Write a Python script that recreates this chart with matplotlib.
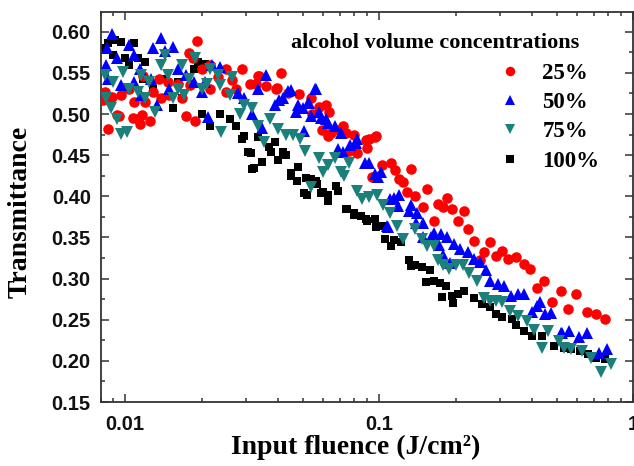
import matplotlib
matplotlib.use("Agg")
import matplotlib.pyplot as plt
from matplotlib.ticker import MultipleLocator, FixedLocator, NullFormatter, FixedFormatter

# ---------------- data ----------------
x25 = [0.0086, 0.0086, 0.0083, 0.0095, 0.0112, 0.0114, 0.0125, 0.0120, 0.0118, 0.0136,
       0.0147, 0.0161, 0.0173, 0.0188, 0.0192, 0.0179, 0.0185, 0.0200, 0.0215, 0.0232,
       0.0249, 0.0263, 0.0288, 0.0310, 0.0334, 0.0096, 0.0104, 0.0108, 0.0129, 0.0139,
       0.0149, 0.0167, 0.0180, 0.0215, 0.0249, 0.0273, 0.0093, 0.0107, 0.0117, 0.0082,
       0.0089, 0.0098, 0.0337, 0.0411, 0.0327, 0.0359, 0.0393, 0.0436, 0.0485, 0.0539,
       0.0581, 0.0617, 0.0636, 0.0598, 0.0646, 0.0627, 0.0697, 0.0740, 0.0545, 0.0718,
       0.0798, 0.0887, 0.0971, 0.0900, 0.0762, 0.0822, 0.0942, 0.0395, 0.0964, 0.0915,
       0.1023, 0.111, 0.116, 0.120, 0.124, 0.129, 0.139, 0.134, 0.149, 0.155,
       0.164, 0.170, 0.179, 0.186, 0.193, 0.204, 0.216, 0.223, 0.236, 0.249,
       0.258, 0.273, 0.289, 0.304, 0.322, 0.345, 0.372, 0.393, 0.417, 0.447,
       0.481, 0.519, 0.557, 0.597, 0.657, 0.716, 0.774]
y25 = [0.482, 0.519, 0.527, 0.498, 0.494, 0.488, 0.492, 0.515, 0.546, 0.543,
       0.539, 0.537, 0.498, 0.492, 0.589, 0.574, 0.568, 0.555, 0.559, 0.545,
       0.555, 0.541, 0.555, 0.536, 0.546, 0.523, 0.531, 0.515, 0.527, 0.519,
       0.523, 0.519, 0.535, 0.531, 0.527, 0.531, 0.499, 0.495, 0.499, 0.517,
       0.521, 0.532, 0.546, 0.550, 0.536, 0.534, 0.530, 0.526, 0.524, 0.519,
       0.509, 0.511, 0.503, 0.481, 0.477, 0.473, 0.481, 0.477, 0.500, 0.485,
       0.475, 0.469, 0.473, 0.459, 0.455, 0.453, 0.424, 0.532, 0.472, 0.470,
       0.438, 0.440, 0.432, 0.421, 0.417, 0.405, 0.400, 0.433, 0.387, 0.409,
       0.370, 0.391, 0.387, 0.398, 0.385, 0.370, 0.382, 0.360, 0.346, 0.322,
       0.332, 0.344, 0.328, 0.334, 0.324, 0.326, 0.318, 0.312, 0.289, 0.297,
       0.271, 0.285, 0.263, 0.281, 0.259, 0.257, 0.251]

x50 = [0.0089, 0.0085, 0.0084, 0.0093, 0.0104, 0.0108, 0.0129, 0.0138, 0.0144, 0.0155,
       0.0114, 0.0127, 0.0134, 0.0161, 0.0173, 0.0186, 0.0096, 0.0108, 0.0086, 0.0116,
       0.0149, 0.0200, 0.0212, 0.0236, 0.0219, 0.0207, 0.0278, 0.0294, 0.0316, 0.0334,
       0.0359, 0.039, 0.042, 0.045, 0.047, 0.050, 0.053, 0.056, 0.058, 0.062,
       0.067, 0.072, 0.077, 0.082, 0.088, 0.096, 0.102, 0.107, 0.110, 0.120,
       0.134, 0.141, 0.149, 0.164, 0.176, 0.186, 0.197, 0.208, 0.223, 0.236,
       0.249, 0.263, 0.273, 0.294, 0.310, 0.331, 0.352, 0.372, 0.399, 0.417,
       0.452, 0.474, 0.430, 0.527, 0.558, 0.613, 0.658, 0.736, 0.789, 0.519,
       0.0437, 0.0403, 0.0479, 0.0525, 0.0539, 0.059, 0.0627, 0.0687, 0.0505, 0.0346,
       0.0564, 0.0709, 0.0809, 0.0915, 0.0994, 0.1146, 0.119, 0.1317, 0.140, 0.108,
       0.1488, 0.160, 0.1726, 0.179, 0.1906]
y50 = [0.597, 0.580, 0.559, 0.568, 0.584, 0.572, 0.580, 0.593, 0.576, 0.582,
       0.555, 0.543, 0.511, 0.555, 0.547, 0.539, 0.535, 0.539, 0.543, 0.523,
       0.531, 0.527, 0.496, 0.557, 0.559, 0.539, 0.525, 0.519, 0.500, 0.531,
       0.547, 0.511, 0.519, 0.529, 0.502, 0.507, 0.513, 0.531, 0.503, 0.494,
       0.486, 0.454, 0.462, 0.470, 0.441, 0.427, 0.429, 0.364, 0.397, 0.401,
       0.389, 0.380, 0.368, 0.356, 0.354, 0.350, 0.342, 0.336, 0.332, 0.324,
       0.320, 0.310, 0.297, 0.293, 0.291, 0.279, 0.281, 0.281, 0.259, 0.267,
       0.257, 0.258, 0.272, 0.234, 0.236, 0.229, 0.234, 0.209, 0.215, 0.234,
       0.528, 0.517, 0.511, 0.513, 0.497, 0.495, 0.489, 0.457, 0.479, 0.483,
       0.530, 0.477, 0.465, 0.440, 0.424, 0.398, 0.388, 0.382, 0.367, 0.363,
       0.351, 0.351, 0.341, 0.329, 0.319]

x75 = [0.818, 0.749, 0.684, 0.630, 0.570, 0.536, 0.509, 0.463, 0.440, 0.409,
       0.381, 0.353, 0.329, 0.304, 0.289, 0.273, 0.258, 0.244, 0.227, 0.215,
       0.200, 0.189, 0.179, 0.170, 0.164, 0.155, 0.147, 0.139, 0.124, 0.118,
       0.110, 0.104, 0.098, 0.091, 0.086, 0.082, 0.076, 0.073, 0.071, 0.067,
       0.063, 0.060, 0.058, 0.054, 0.051, 0.049, 0.046, 0.043, 0.040, 0.0373,
       0.0353, 0.0334, 0.0316, 0.0294, 0.0283, 0.0258, 0.0239, 0.0232, 0.0211, 0.0200,
       0.0189, 0.0179, 0.0170, 0.0155, 0.0144, 0.0139, 0.0131, 0.0120, 0.0112, 0.0102,
       0.0096, 0.0093, 0.0088, 0.0084, 0.0083, 0.0090, 0.0098, 0.0104, 0.0116, 0.0124,
       0.0147, 0.0161, 0.0167, 0.0215, 0.0236, 0.0263]
y75 = [0.196, 0.186, 0.204, 0.212, 0.214, 0.216, 0.224, 0.236, 0.216, 0.238,
       0.249, 0.255, 0.261, 0.271, 0.273, 0.273, 0.276, 0.297, 0.307, 0.316,
       0.316, 0.312, 0.316, 0.322, 0.340, 0.339, 0.348, 0.360, 0.348, 0.364,
       0.380, 0.389, 0.401, 0.399, 0.397, 0.407, 0.441, 0.425, 0.429, 0.446,
       0.438, 0.429, 0.446, 0.411, 0.455, 0.470, 0.474, 0.474, 0.482, 0.494,
       0.466, 0.486, 0.507, 0.511, 0.500, 0.523, 0.478, 0.547, 0.537, 0.531,
       0.568, 0.543, 0.523, 0.519, 0.572, 0.559, 0.503, 0.519, 0.527, 0.478,
       0.476, 0.494, 0.507, 0.519, 0.547, 0.539, 0.551, 0.531, 0.547, 0.539,
       0.547, 0.531, 0.559, 0.555, 0.535, 0.545]

x100 = [0.776, 0.716, 0.667, 0.620, 0.570, 0.536, 0.490, 0.440, 0.400, 0.372,
        0.345, 0.333, 0.304, 0.289, 0.273, 0.254, 0.236, 0.216, 0.204, 0.193,
        0.183, 0.173, 0.164, 0.158, 0.147, 0.139, 0.131, 0.122, 0.111, 0.106,
        0.1023, 0.096, 0.090, 0.085, 0.080, 0.075, 0.069, 0.063, 0.060, 0.057,
        0.054, 0.052, 0.048, 0.045, 0.043, 0.042, 0.039, 0.037, 0.0346, 0.0334,
        0.0316, 0.0305, 0.0288, 0.0273, 0.0258, 0.0236, 0.0215, 0.0200, 0.0193, 0.0207,
        0.0186, 0.0167, 0.0155, 0.0139, 0.0129, 0.0120, 0.0112, 0.0108, 0.0096, 0.0091,
        0.0086, 0.0083, 0.0100, 0.0104, 0.0090, 0.0118, 0.0144, 0.0161,
        0.0293, 0.0312, 0.0322, 0.0375, 0.0400, 0.0449, 0.0477, 0.0517, 0.0505, 0.0564,
        0.0590, 0.0627, 0.0677, 0.0740, 0.0800, 0.0886, 0.0970, 0.1146, 0.134, 0.1535,
        0.1766, 0.1963]
y100 = [0.202, 0.204, 0.208, 0.212, 0.214, 0.216, 0.218, 0.230, 0.230, 0.236,
        0.244, 0.251, 0.253, 0.257, 0.265, 0.269, 0.277, 0.285, 0.281, 0.279,
        0.291, 0.295, 0.297, 0.310, 0.314, 0.316, 0.322, 0.344, 0.340, 0.348,
        0.364, 0.372, 0.370, 0.376, 0.380, 0.385, 0.407, 0.401, 0.405, 0.415,
        0.421, 0.401, 0.436, 0.425, 0.450, 0.454, 0.466, 0.460, 0.442, 0.472,
        0.433, 0.454, 0.470, 0.486, 0.494, 0.500, 0.486, 0.500, 0.563, 0.561,
        0.555, 0.519, 0.507, 0.519, 0.531, 0.563, 0.568, 0.586, 0.588, 0.590,
        0.586, 0.580, 0.568, 0.559, 0.572, 0.543, 0.543, 0.539,
        0.473, 0.453, 0.434, 0.454, 0.444, 0.428, 0.418, 0.422, 0.404, 0.418,
        0.404, 0.394, 0.412, 0.384, 0.377, 0.373, 0.363, 0.347, 0.315, 0.296,
        0.278, 0.270]

labels = ["25%", "50%", "75%", "100%"]
legend_title = "alcohol volume concentrations"
xlabel = "Input fluence (J/cm\u00b2)"
ylabel = "Transmittance"
yticks = [0.15, 0.20, 0.25, 0.30, 0.35, 0.40, 0.45, 0.50, 0.55, 0.60]
xticks = [0.01, 0.1, 1]
xticklabels = ["0.01", "0.1", "1"]

# ---------------- figure ----------------
W, H = 634, 466
fig = plt.figure(figsize=(W / 100, H / 100), dpi=100)
L, R, T, B = 100.5, 633, 12, 402
ax = fig.add_axes([L / W, 1 - B / H, (R - L) / W, (B - T) / H])

teal = "#1B7F7B"
l100, = ax.plot(x100, y100, ls="none", marker="s", ms=6.2, color="black", mew=0, zorder=2)
l25, = ax.plot(x25, y25, ls="none", marker="o", ms=7.6, color="#FF0000", mew=0, zorder=3)
l50, = ax.plot(x50, y50, ls="none", marker="^", ms=8.2, color="#0000FF", mew=0, zorder=4)
l75, = ax.plot(x75, y75, ls="none", marker="v", ms=8.2, color=teal, mew=0, zorder=5)

ax.set_xscale("log")
ax.set_xlim(0.008, 1.0)
ax.set_ylim(0.15, 0.624)

ax.xaxis.set_major_locator(FixedLocator(xticks))
ax.xaxis.set_major_formatter(FixedFormatter(xticklabels))
minors = [m * 10.0 ** e for e in (-3, -2, -1) for m in range(2, 10)]
ax.xaxis.set_minor_locator(FixedLocator(minors))
ax.xaxis.set_minor_formatter(NullFormatter())
ax.yaxis.set_major_locator(FixedLocator(yticks))
ax.yaxis.set_minor_locator(MultipleLocator(0.025))
ax.set_yticklabels(["%.2f" % v for v in yticks])

spine_col = "#333333"
for s in ax.spines.values():
    s.set_color(spine_col)
    s.set_linewidth(1.3)

ax.tick_params(which="both", direction="in", top=True, right=True, color=spine_col, width=1.1)
ax.tick_params(which="major", length=5.5)
ax.tick_params(which="minor", length=3.2)
ax.tick_params(axis="y", which="major", pad=7)
ax.tick_params(axis="x", which="major", pad=9)
for lab in ax.get_xticklabels() + ax.get_yticklabels():
    lab.set_fontfamily("Liberation Sans")
    lab.set_fontweight("bold")
    lab.set_fontsize(14.5)
    lab.set_color("#111111")

labfont = dict(family="Liberation Serif", weight="bold", size=20)
ax.set_xlabel(xlabel, fontdict=labfont)
ax.set_ylabel(ylabel, fontdict=labfont)
ax.xaxis.set_label_coords(0.48, -0.083)
ax.yaxis.set_label_coords(-0.127, 0.487)

ax.text(0.628, 0.921, legend_title, transform=ax.transAxes, ha="center", va="center",
        family="Liberation Serif", weight="bold", size=16)

leg = ax.legend([l25, l50, l75, l100], labels, loc="upper left",
                bbox_to_anchor=(0.748, 0.87), frameon=False,
                prop=dict(family="Liberation Serif", weight="bold", size=16.5),
                markerscale=0.9, handlelength=1.0, handletextpad=0.9,
                labelspacing=0.36, borderpad=0, borderaxespad=0)

fig.savefig("out.png", dpi=100)
